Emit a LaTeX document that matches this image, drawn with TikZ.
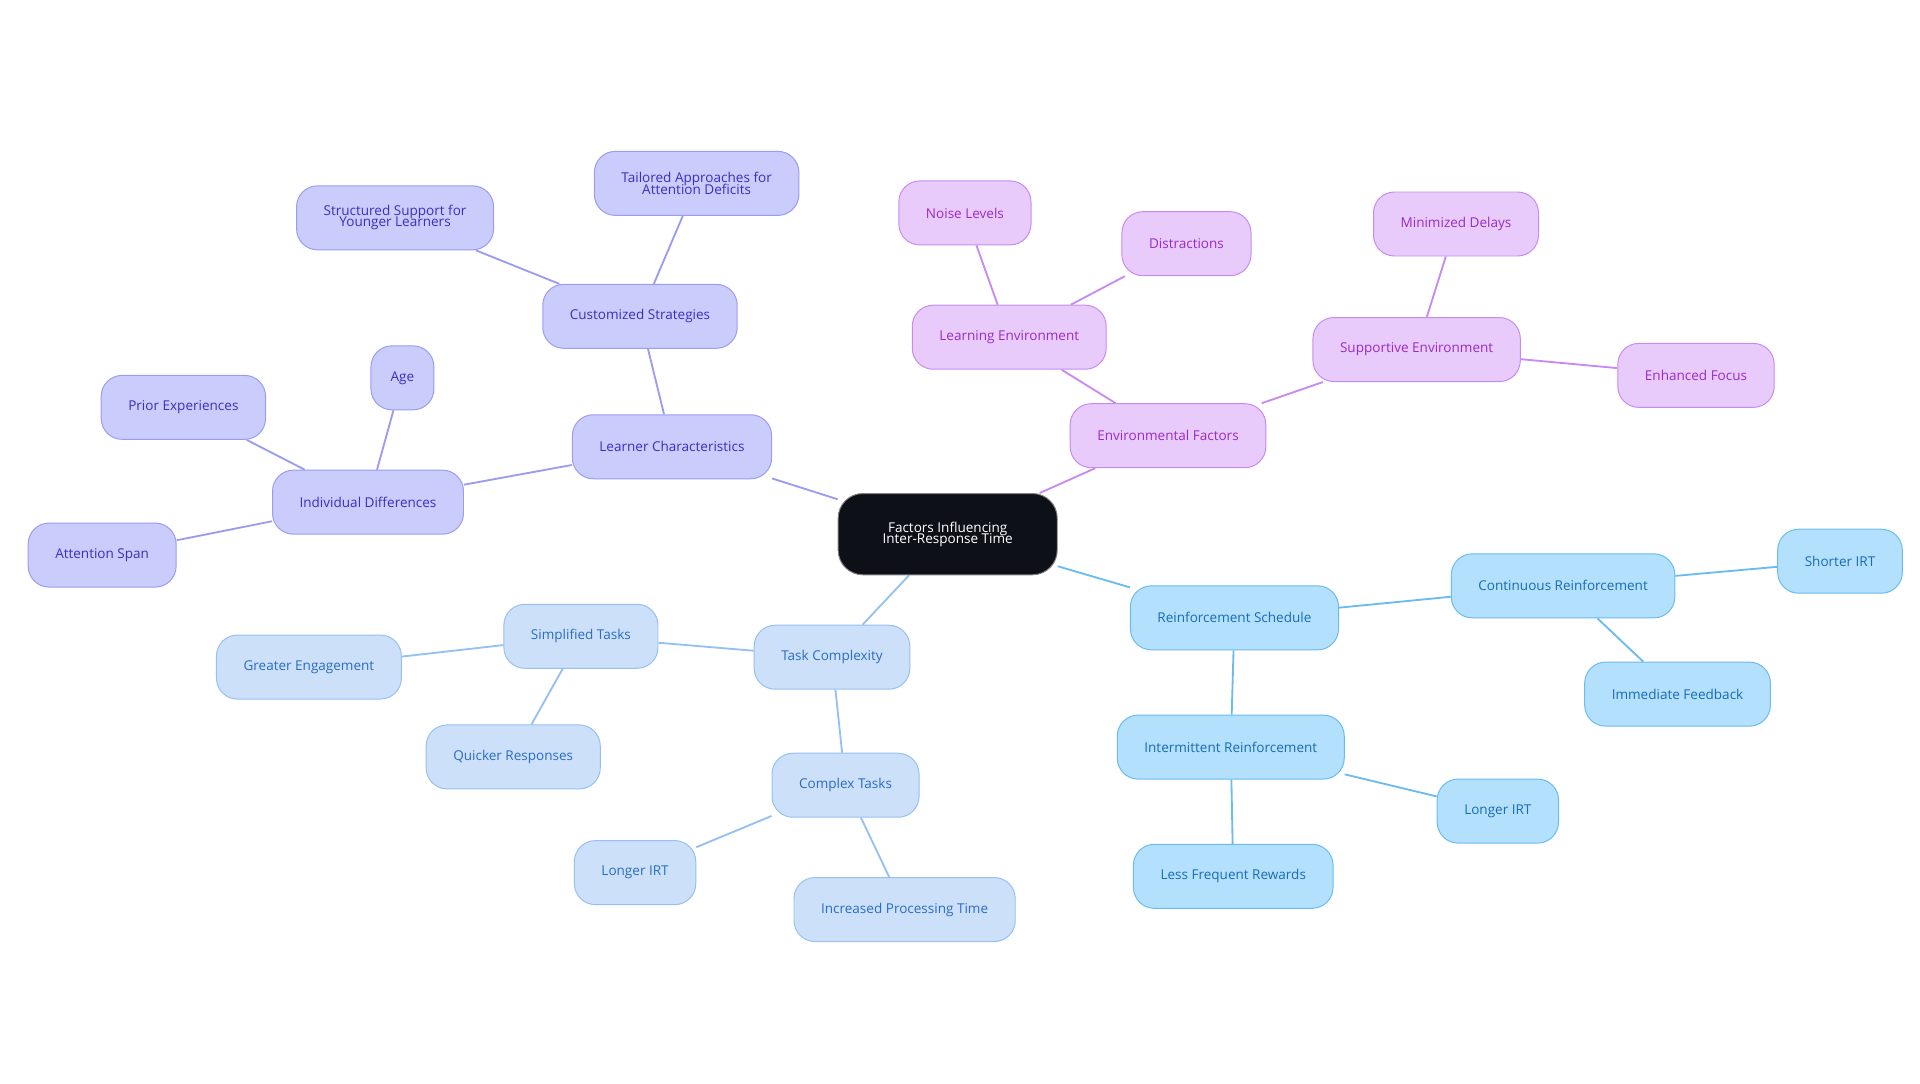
\documentclass[tikz,border=0pt]{standalone}
\usepackage{fontspec}
\setmainfont{Open Sans}
\usetikzlibrary{backgrounds}
\definecolor{lcfill}{HTML}{CACCFB}\definecolor{lcline}{HTML}{9A9CF0}\definecolor{lctext}{HTML}{3B2FC0}
\definecolor{effill}{HTML}{E8CBFB}\definecolor{efline}{HTML}{C88AF0}\definecolor{eftext}{HTML}{9A2BC8}
\definecolor{tcfill}{HTML}{CCE0FA}\definecolor{tcline}{HTML}{95C0F0}\definecolor{tctext}{HTML}{2B6CC4}
\definecolor{rsfill}{HTML}{B3E0FC}\definecolor{rsline}{HTML}{6BBBF0}\definecolor{rstext}{HTML}{1A6BB8}
\definecolor{rootfill}{HTML}{0D1117}
\begin{document}
\begin{tikzpicture}[x=1pt,y=-1pt,
    box/.style={rounded corners=17pt, minimum height=52pt, inner xsep=22pt, align=center,
      font=\fontsize{11}{11}\selectfont, line width=0.8pt},
    lc/.style={box, fill=lcfill, draw=lcline, text=lctext},
    ef/.style={box, fill=effill, draw=efline, text=eftext},
    tc/.style={box, fill=tcfill, draw=tcline, text=tctext},
    rs/.style={box, fill=rsfill, draw=rsline, text=rstext},
    link/.style={line width=1.5pt}]
    \useasboundingbox (0,0) rectangle (1560,880);

    % Root
    \node[box, fill=rootfill, draw=gray, text=white, minimum height=66pt, minimum width=178pt, rounded corners=20pt] (root) at (770,434) {Factors Influencing\\[-2pt]Inter-Response Time};

    % Learner characteristics
    \node[lc] (learner) at (546,363) {Learner Characteristics};
    \node[lc] (custom) at (520,257) {Customized Strategies};
    \node[lc] (struct) at (321,177) {Structured Support for\\[-2pt]Younger Learners};
    \node[lc] (tailor) at (566,149) {Tailored Approaches for\\[-2pt]Attention Deficits};
    \node[lc] (indiv) at (299,408) {Individual Differences};
    \node[lc] (prior) at (149,331) {Prior Experiences};
    \node[lc, inner xsep=16pt] (age) at (327,307) {Age};
    \node[lc] (span) at (83,451) {Attention Span};

    % Environmental factors
    \node[ef] (env) at (949,354) {Environmental Factors};
    \node[ef] (learnenv) at (820,274) {Learning Environment};
    \node[ef] (noise) at (784,173) {Noise Levels};
    \node[ef] (distract) at (964,198) {Distractions};
    \node[ef] (support) at (1151,284) {Supportive Environment};
    \node[ef] (delays) at (1183,182) {Minimized Delays};
    \node[ef] (focus) at (1378,305) {Enhanced Focus};

    % Reinforcement schedule
    \node[rs] (sched) at (1003,502) {Reinforcement Schedule};
    \node[rs] (contin) at (1270,476) {Continuous Reinforcement};
    \node[rs] (shorter) at (1495,456) {Shorter IRT};
    \node[rs] (immed) at (1363,564) {Immediate Feedback};
    \node[rs] (inter) at (1000,607) {Intermittent Reinforcement};
    \node[rs] (longerA) at (1217,659) {Longer IRT};
    \node[rs] (rewards) at (1002,712) {Less Frequent Rewards};

    % Task complexity
    \node[tc] (task) at (676,534) {Task Complexity};
    \node[tc] (simple) at (472,517) {Simplified Tasks};
    \node[tc] (engage) at (251,542) {Greater Engagement};
    \node[tc] (quick) at (417,615) {Quicker Responses};
    \node[tc] (complex) at (687,638) {Complex Tasks};
    \node[tc] (longerB) at (516,709) {Longer IRT};
    \node[tc] (process) at (735,739) {Increased Processing Time};

    % Connectors
    \begin{scope}[on background layer]
      \draw[link, lcline] (root) -- (learner) (learner) -- (custom) (custom) -- (struct)
        (custom) -- (tailor) (learner) -- (indiv) (indiv) -- (prior) (indiv) -- (age) (indiv) -- (span);
      \draw[link, efline] (root) -- (env) (env) -- (learnenv) (learnenv) -- (noise)
        (learnenv) -- (distract) (env) -- (support) (support) -- (delays) (support) -- (focus);
      \draw[link, rsline] (root) -- (sched) (sched) -- (contin) (contin) -- (shorter)
        (contin) -- (immed) (sched) -- (inter) (inter) -- (longerA) (inter) -- (rewards);
      \draw[link, tcline] (root) -- (task) (task) -- (simple) (simple) -- (engage)
        (simple) -- (quick) (task) -- (complex) (complex) -- (longerB) (complex) -- (process);
    \end{scope}
\end{tikzpicture}
\end{document}
